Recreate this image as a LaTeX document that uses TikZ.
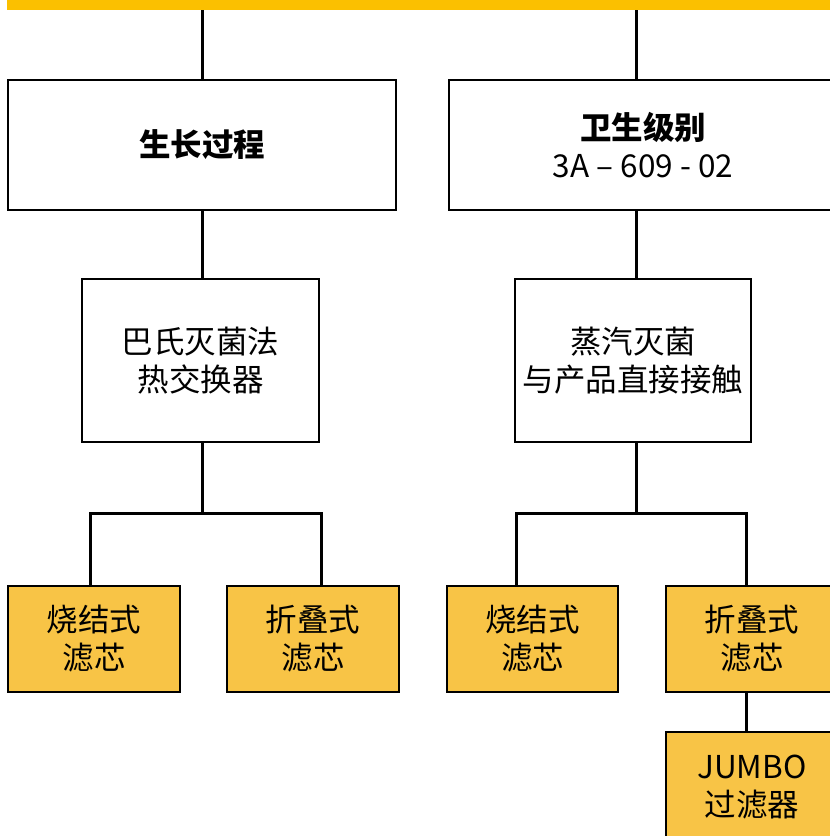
\documentclass[tikz,border=0pt]{standalone}
\usepackage{fontspec}
\setmainfont{Noto Sans CJK SC}
\begin{document}
\begin{tikzpicture}[x=1pt,y=-1pt,
  every node/.style={font=\fontsize{31.5}{38}\selectfont, align=center, inner sep=0pt, outer sep=0pt},
  wbox/.style={draw=black, line width=2.6pt, fill=white, rectangle},
  ybox/.style={draw=black, line width=2.6pt, fill=boxyellow, rectangle},
  conn/.style={draw=black, line width=3pt},
]
\definecolor{baryellow}{HTML}{FBC000}
\definecolor{boxyellow}{HTML}{F8C446}
\useasboundingbox (0,0) rectangle (830,836);
\clip (0,0) rectangle (830,836);
\fill[white] (0,0) rectangle (830,836);

% top bar
\node[fill=baryellow, minimum width=840pt, minimum height=10pt, anchor=north west] (bar) at (7,0) {};

% level 1
\node[wbox, minimum width=388pt, minimum height=130pt] (b1) at (202,145) {\bfseries 生长过程};
\node[wbox, minimum width=388pt, minimum height=130pt] (b2) at (643,145) {\bfseries 卫生级别\\3A – 609 - 02};

% level 2
\node[wbox, minimum width=237pt, minimum height=163pt] (b3) at (200.5,360.5) {巴氏灭菌法\\热交换器};
\node[wbox, minimum width=236pt, minimum height=163pt] (b4) at (633,360.5) {蒸汽灭菌\\与产品直接接触};

% level 3
\node[ybox, minimum width=172pt, minimum height=106pt] (c1) at (94,639) {烧结式\\滤芯};
\node[ybox, minimum width=172pt, minimum height=106pt] (c2) at (313,639) {折叠式\\滤芯};
\node[ybox, minimum width=171pt, minimum height=106pt] (c3) at (532.5,639) {烧结式\\滤芯};
\node[ybox, minimum width=172pt, minimum height=106pt] (c4) at (752,639) {折叠式\\滤芯};

% level 4
\node[ybox, minimum width=172pt, minimum height=110pt] (d1) at (752,787) {JUMBO\\过滤器};

% connector coordinates
\coordinate (t1) at (202,0);
\coordinate (t2) at (636.5,0);
\coordinate (m1) at (202,0);
\coordinate (m2) at (636.5,0);
\coordinate (k1) at (90,513);
\coordinate (k2) at (321,513);
\coordinate (k3) at (516,513);
\coordinate (k4) at (746,513);
\coordinate (j1) at (746,0);

\path[conn] (t1 |- bar.south) -- (t1 |- b1.north);
\path[conn] (t2 |- bar.south) -- (t2 |- b2.north);
\path[conn] (m1 |- b1.south) -- (m1 |- b3.north);
\path[conn] (m2 |- b2.south) -- (m2 |- b4.north);
\path[conn] (m1 |- b3.south) -- (m1 |- k1);
\path[conn] (m2 |- b4.south) -- (m2 |- k3);
\path[conn] (k1 |- c1.north) -- (k1) -- (k2) -- (k2 |- c2.north);
\path[conn] (k3 |- c3.north) -- (k3) -- (k4) -- (k4 |- c4.north);
\path[conn] (j1 |- c4.south) -- (j1 |- d1.north);
\end{tikzpicture}
\end{document}
